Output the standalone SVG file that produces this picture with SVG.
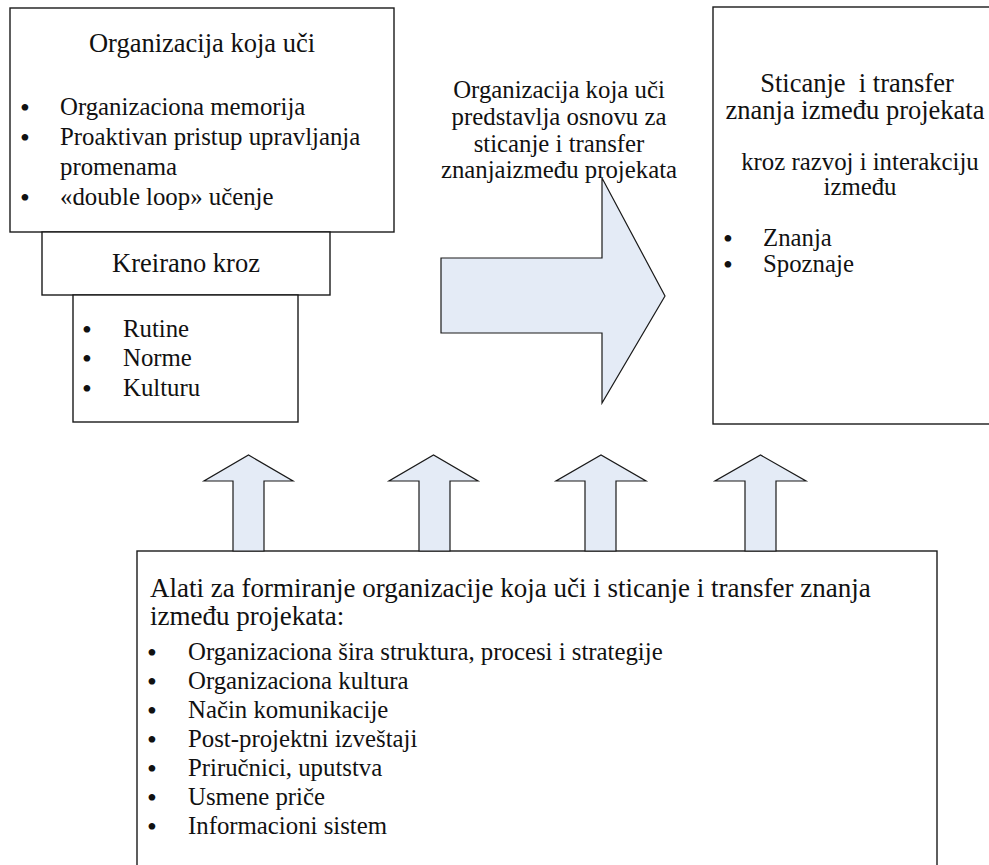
<svg xmlns="http://www.w3.org/2000/svg" width="989" height="865" viewBox="0 0 989 865">
  <style>
    .box { fill: #ffffff; stroke: #1a1a1a; stroke-width: 1.4; }
    .arrow { fill: #e4ebf6; stroke: #1a1a1a; stroke-width: 1.2; stroke-linejoin: miter; }
    .t { fill: #111111; }
    .title { font-size: 26.5px; text-anchor: middle; }
    .body { font-size: 24.8px; }
    .mid { font-size: 24.8px; text-anchor: middle; }
    .dot { font-size: 28px; text-anchor: middle; }
    .head { font-size: 27px; }
  </style>

  <g font-family="'Liberation Serif', 'DejaVu Serif', serif" xml:space="preserve">
  <!-- Learning organisation -->
  <g id="organizacija">
    <rect class="box" x="10" y="8" width="384" height="224"/>
    <text class="t title" x="202" y="52">Organizacija koja uči</text>
    <text class="t dot" x="25" y="117">•</text>
    <text class="t body" x="60" y="115">Organizaciona memorija</text>
    <text class="t dot" x="25" y="147">•</text>
    <text class="t body" x="60" y="145">Proaktivan pristup upravljanja</text>
    <text class="t body" x="60" y="175">promenama</text>
    <text class="t dot" x="25" y="207">•</text>
    <text class="t body" x="60" y="205">«double loop» učenje</text>
  </g>

  <g id="kreirano">
    <rect class="box" x="42" y="232" width="288" height="63"/>
    <text class="t title" x="186" y="272">Kreirano kroz</text>
  </g>

  <g id="rutine">
    <rect class="box" x="73" y="295" width="225" height="127"/>
    <text class="t dot" x="87" y="339">•</text>
    <text class="t body" x="123" y="337">Rutine</text>
    <text class="t dot" x="87" y="368">•</text>
    <text class="t body" x="123" y="366">Norme</text>
    <text class="t dot" x="87" y="398">•</text>
    <text class="t body" x="123" y="396">Kulturu</text>
  </g>

  <!-- Knowledge acquisition and transfer -->
  <g id="sticanje">
    <rect class="box" x="713" y="7" width="292" height="417"/>
    <text class="t title" x="857" y="92">Sticanje&#160; i transfer</text>
    <text class="t title" x="855" y="119">znanja između projekata</text>
    <text class="t mid" x="860" y="170">kroz razvoj i interakciju</text>
    <text class="t mid" x="860" y="195">između</text>
    <text class="t dot" x="728" y="248">•</text>
    <text class="t body" x="763" y="246">Znanja</text>
    <text class="t dot" x="728" y="274">•</text>
    <text class="t body" x="763" y="272">Spoznaje</text>
  </g>

  <!-- Tools -->
  <g id="alati">
    <rect class="box" x="137" y="551" width="800" height="330"/>
    <text class="t head" x="150" y="597">Alati za formiranje organizacije koja uči i sticanje i transfer znanja</text>
    <text class="t head" x="150" y="625">između projekata:</text>
    <text class="t dot" x="152" y="662">•</text>
    <text class="t body" x="188" y="660">Organizaciona šira struktura, procesi i strategije</text>
    <text class="t dot" x="152" y="691">•</text>
    <text class="t body" x="188" y="689">Organizaciona kultura</text>
    <text class="t dot" x="152" y="720">•</text>
    <text class="t body" x="188" y="718">Način komunikacije</text>
    <text class="t dot" x="152" y="749">•</text>
    <text class="t body" x="188" y="747">Post-projektni izveštaji</text>
    <text class="t dot" x="152" y="778">•</text>
    <text class="t body" x="188" y="776">Priručnici, uputstva</text>
    <text class="t dot" x="152" y="807">•</text>
    <text class="t body" x="188" y="805">Usmene priče</text>
    <text class="t dot" x="152" y="836">•</text>
    <text class="t body" x="188" y="834">Informacioni sistem</text>
  </g>

  <!-- Connectors: block arrows -->
  <g id="connectors">
    <polygon class="arrow" points="441,258 602,258 602,178 665,296 602,403 602,333 441,333"/>
    <text class="t mid" x="559" y="98">Organizacija koja uči</text>
    <text class="t mid" x="559" y="125">predstavlja osnovu za</text>
    <text class="t mid" x="559" y="152">sticanje i transfer</text>
    <text class="t mid" x="559" y="178">znanjaizmeđu projekata</text>

    <polygon class="arrow" points="233,551 233,481 204,481 248.5,455 293,481 264,481 264,551"/>
    <polygon class="arrow" points="419,551 419,481 389,481 433.5,455 478,481 450,481 450,551"/>
    <polygon class="arrow" points="585,551 585,481 556,481 601,455 646,481 616,481 616,551"/>
    <polygon class="arrow" points="745,551 745,481 715,481 760.5,455 806,481 776,481 776,551"/>
  </g>
  </g>
</svg>
